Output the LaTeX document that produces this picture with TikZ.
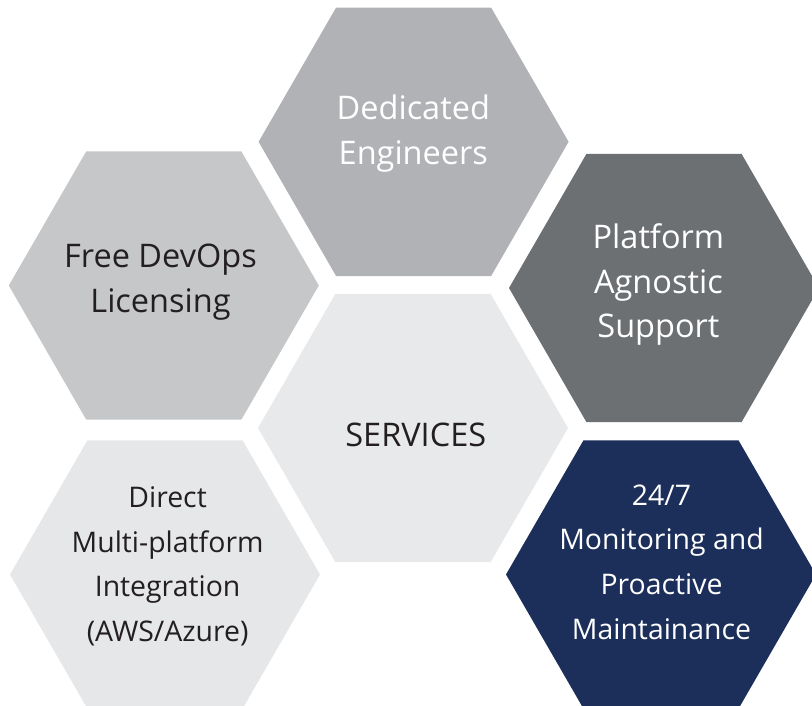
\documentclass[tikz,border=0pt]{standalone}
\usepackage{fontspec}
\setmainfont{Open Sans}
\usetikzlibrary{shapes.geometric}
\definecolor{hexT}{HTML}{B1B2B5}
\definecolor{hexLT}{HTML}{C6C7C9}
\definecolor{hexRT}{HTML}{6D7073}
\definecolor{hexC}{HTML}{E8E9EA}
\definecolor{hexLB}{HTML}{E6E7E8}
\definecolor{hexRB}{HTML}{1C2F5A}
\definecolor{darktext}{HTML}{231F20}
\begin{document}
\begin{tikzpicture}[x=1pt,y=-1pt,
  hexcell/.style={regular polygon, regular polygon sides=6, minimum size=310pt,
    inner sep=0pt, outer sep=0pt, draw=none},
  bigtext/.style={anchor=north, align=center, inner sep=0pt,
    font=\fontsize{32.5}{44.5}\selectfont},
  smalltext/.style={anchor=north, align=center, inner sep=0pt,
    font=\fontsize{28.4}{44.7}\selectfont}]
\useasboundingbox (0,0) rectangle (812,706);
\clip (0,0) rectangle (812,706);
\fill[white] (0,0) rectangle (812,706);
\node[hexcell, fill=hexT]  (hT)  at (413.6,141.8) {};
\node[hexcell, fill=hexLT] (hLT) at (163.8,285.5) {};
\node[hexcell, fill=hexRT] (hRT) at (664,288) {};
\node[hexcell, fill=hexC]  (hC)  at (413,428) {};
\node[hexcell, fill=hexLB] (hLB) at (165,574.5) {};
\node[hexcell, fill=hexRB] (hRB) at (661,574.5) {};
\node[bigtext, text=white] (tT) at (413.3,88.2) {\strut Dedicated\\\strut Engineers};
\node[bigtext, text=darktext] (tLT) at (160.5,236.5) {\strut Free DevOps\\\strut Licensing};
\node[bigtext, text=white] (tRT) at (658.4,217.2) {\strut Platform\\\strut Agnostic\\\strut Support};
\node[bigtext, text=darktext] (tC) at (415.8,415.6) {\strut SERVICES};
\node[smalltext, text=darktext] (tLB) at (167.6,476) {\strut Direct\\\strut Multi-platform\\\strut Integration\\\strut (AWS/Azure)};
\node[smalltext, text=white] (tRB) at (661.5,473.7) {\strut 24/7\\\strut Monitoring and\\\strut Proactive\\\strut Maintainance};
\end{tikzpicture}
\end{document}
